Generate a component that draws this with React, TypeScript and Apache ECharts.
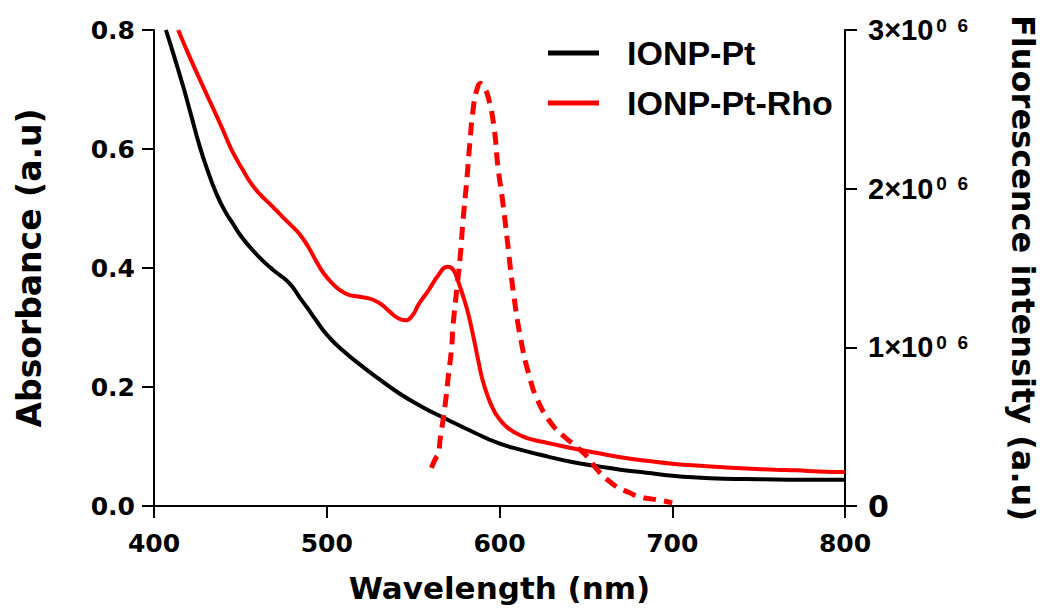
import React, { useEffect, useRef } from 'react';
import * as echarts from 'echarts';

// IONP-Pt absorbance (left axis)
const ionpPtWavelength = [406.9, 411, 416.9, 421, 426.5, 431, 436.1, 441, 445.6, 450, 455.3, 461, 466.8, 471, 476.4, 480, 484, 489, 493.6, 500, 509, 520, 530, 541.6, 555, 570, 585, 599, 613, 628, 642, 656.7, 670, 685, 700, 714, 730, 750, 775, 800];
const ionpPtAbsorbance = [0.8, 0.762, 0.705, 0.662, 0.604, 0.564, 0.525, 0.496, 0.475, 0.455, 0.436, 0.418, 0.402, 0.392, 0.38, 0.369, 0.352, 0.332, 0.313, 0.288, 0.262, 0.236, 0.214, 0.19, 0.167, 0.145, 0.124, 0.106, 0.094, 0.083, 0.074, 0.067, 0.061, 0.056, 0.051, 0.048, 0.046, 0.045, 0.044, 0.044];

// IONP-Pt-Rho absorbance (left axis)
const rhoWavelength = [414, 420, 426.5, 433, 439.9, 445, 451.4, 456, 461, 468, 474.4, 480, 484, 489, 493.6, 498, 503.2, 508, 512.8, 518, 524.3, 528, 532, 537, 541.6, 545.6, 550, 553, 559, 564.6, 569.8, 573, 576, 579, 582, 585, 587.6, 590, 593.4, 596, 599, 605, 613.5, 620, 628, 642, 656.7, 670, 685, 700, 714, 730, 743, 760, 772, 785, 800];
const rhoAbsorbance = [0.8, 0.759, 0.717, 0.676, 0.632, 0.598, 0.565, 0.543, 0.525, 0.505, 0.486, 0.47, 0.458, 0.437, 0.413, 0.392, 0.374, 0.362, 0.355, 0.352, 0.349, 0.345, 0.338, 0.325, 0.315, 0.312, 0.322, 0.338, 0.363, 0.388, 0.402, 0.398, 0.378, 0.352, 0.322, 0.283, 0.246, 0.214, 0.183, 0.165, 0.15, 0.131, 0.117, 0.111, 0.106, 0.097, 0.089, 0.082, 0.076, 0.071, 0.068, 0.065, 0.063, 0.061, 0.06, 0.058, 0.057];

// IONP-Pt-Rho fluorescence (right axis)
const fluoWavelength = [560.6, 563, 564.6, 565.6, 568.4, 570.4, 572.3, 573.2, 575.7, 577.4, 578.9, 580.9, 582.8, 584.7, 586.8, 589.2, 591, 593.4, 596.8, 599.1, 602, 604.5, 608, 612.4, 617, 622, 630, 637.7, 645, 651, 656.7, 662, 668, 675, 681.4, 691, 700];
const fluoIntensity = [240000, 300000, 330000, 416000, 626000, 820000, 1000000, 1150000, 1405000, 1590000, 1800000, 2033000, 2285000, 2495000, 2620000, 2663000, 2640000, 2580000, 2390000, 2138000, 1907000, 1676000, 1350000, 1046000, 830000, 668000, 520000, 435000, 370000, 309000, 227000, 170000, 120000, 85000, 57000, 40000, 20000];

const legendNames = ['IONP-Pt', 'IONP-Pt-Rho'];

const zip = (xs: number[], ys: number[]) => xs.map((x, i) => [x, ys[i]]);

export default function App() {
  const ref = useRef<HTMLDivElement>(null);
  useEffect(() => {
    const chart = echarts.init(ref.current!, null, { renderer: 'svg' });
    const tickFont = { fontFamily: 'DejaVu Sans', fontWeight: 'bold' as const, fontSize: 25, color: '#000' };
    const axisLine = { show: true, lineStyle: { color: '#000', width: 2 } };
    const axisTick = { show: true, inside: false, length: 12, lineStyle: { color: '#000', width: 2 } };
    chart.setOption({
      animation: false,
      backgroundColor: '#fff',
      grid: { left: 154, right: 198, top: 30, bottom: 104 },
      legend: {
        data: legendNames,
        orient: 'vertical',
        left: 548,
        top: 33,
        padding: 0,
        itemGap: 10,
        icon: 'rect',
        itemWidth: 51,
        itemHeight: 5,
        textStyle: {
          fontFamily: 'Liberation Sans',
          fontWeight: 'bold',
          fontSize: 34,
          color: '#000',
          lineHeight: 40,
          padding: [0, 0, 0, 23],
        },
      },
      xAxis: {
        type: 'value',
        min: 400,
        max: 800,
        interval: 100,
        axisLine,
        axisTick,
        splitLine: { show: false },
        axisLabel: { ...tickFont, margin: 25 },
        name: 'Wavelength (nm)',
        nameLocation: 'middle',
        nameGap: 66,
        nameTextStyle: { fontFamily: 'DejaVu Sans', fontWeight: 'bold', fontSize: 31, color: '#000' },
      },
      yAxis: [
        {
          type: 'value',
          position: 'left',
          min: 0,
          max: 0.8,
          interval: 0.2,
          axisLine,
          axisTick,
          splitLine: { show: false },
          axisLabel: { ...tickFont, margin: 19, formatter: (v: number) => v.toFixed(1) },
          name: 'Absorbance (a.u)',
          nameLocation: 'middle',
          nameRotate: 90,
          nameGap: 108,
          nameTextStyle: { fontFamily: 'DejaVu Sans', fontWeight: 'bold', fontSize: 33, color: '#000' },
        },
        {
          type: 'value',
          position: 'right',
          min: 0,
          max: 3000000,
          interval: 1000000,
          axisLine,
          axisTick,
          splitLine: { show: false },
          axisLabel: {
            margin: 23,
            color: '#000',
            formatter: (v: number) => (v === 0 ? '{c|0}' : `{a|${v / 1000000}×10}{b|0  6}`),
            rich: {
              a: { fontFamily: 'Liberation Sans', fontWeight: 'bold', fontSize: 29, color: '#000' },
              b: { fontFamily: 'Liberation Sans', fontWeight: 'bold', fontSize: 19, color: '#000', verticalAlign: 'top', padding: [0, 0, 0, 3] },
              c: { fontFamily: 'DejaVu Sans', fontWeight: 'bold', fontSize: 30, color: '#000' },
            },
          },
          name: 'Fluorescence intensity (a.u)',
          nameLocation: 'middle',
          nameRotate: -90,
          nameGap: 162,
          nameTextStyle: { fontFamily: 'DejaVu Sans', fontWeight: 'bold', fontSize: 32, color: '#000' },
        },
      ],
      series: [
        {
          name: 'IONP-Pt',
          type: 'line',
          yAxisIndex: 0,
          data: zip(ionpPtWavelength, ionpPtAbsorbance),
          showSymbol: false,
          smooth: 0.5,
          color: '#000',
          lineStyle: { color: '#000', width: 4 },
        },
        {
          name: 'IONP-Pt-Rho',
          type: 'line',
          yAxisIndex: 0,
          data: zip(rhoWavelength, rhoAbsorbance),
          showSymbol: false,
          smooth: 0.5,
          color: '#ff0000',
          lineStyle: { color: '#ff0000', width: 4 },
        },
        {
          name: 'IONP-Pt-Rho fluorescence',
          type: 'line',
          yAxisIndex: 1,
          data: zip(fluoWavelength, fluoIntensity),
          showSymbol: false,
          smooth: 0.5,
          color: '#ff0000',
          lineStyle: { color: '#ff0000', width: 5, type: [13, 8] },
        },
      ],
    });
    return () => chart.dispose();
  }, []);
  return (
    <div
      ref={ref}
      style={{ position: 'fixed', left: 0, top: 0, width: 1047, height: 610, background: '#fff' }}
    />
  );
}
